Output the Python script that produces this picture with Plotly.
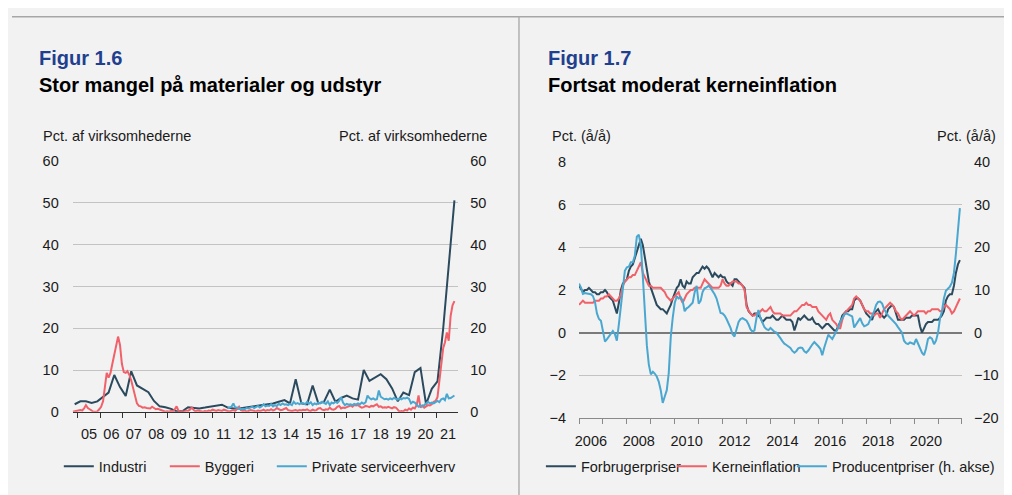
import pandas as pd
import plotly.graph_objects as go

# ---------------- Figur 1.6 data (pct. af virksomhederne) ----------------
industri_start = "2004-11-01"   # quarterly
industri = [1.8,
            2.5, 2.5, 2.1, 2.5,
            3.5, 4.6, 8.8, 5.9,
            3.8, 9.7, 6.3, 5.6,
            4.7, 2.6, 1.3, 1.1,
            0.7, 0.1, 0.1, 1.1,
            1.0, 0.8, 1.0, 1.2,
            1.4, 1.7, 1.0, 0.8,
            0.8, 1.0, 1.2, 1.3,
            1.6, 1.8, 2.0, 2.4,
            2.8, 2.0, 7.8, 2.0,
            1.8, 6.3, 2.0, 2.4,
            5.3, 2.4, 3.3, 3.9,
            3.2, 2.9, 10.0, 7.4,
            8.3, 9.0, 7.8, 5.6,
            2.5, 4.6, 4.0, 9.5,
            10.5, 1.8, 5.5, 7.3,
            20.0, 35.0, 50.6]

byggeri_start = "2004-10-01"    # monthly
byggeri = [0.0, 0.1, 0.2,
           0.3, 0.4, 0.3, 0.8, 1.6, 0.9, 0.6, 0.2, 0.0, 0.0, 0.1, 0.6,
           1.2, 2.5, 5.5, 9.3, 8.2, 9.3, 11.5, 14.0, 16.5, 18.0, 16.0, 11.5,
           9.5, 9.3, 9.7, 8.8, 7.5, 5.5, 3.5, 2.0, 1.4, 1.3, 1.0, 1.1,
           0.9, 0.8, 0.8, 1.2, 0.9, 0.6, 0.7, 0.5, 0.3, 0.1, 0.0, 0.1,
           0.0, 0.2, 0.0, 0.6, 1.3, 0.2, 0.0, 0.1, 0.0, 0.3, 0.2, 0.5,
           1.0, 0.4, 0.1, 0.3, 0.2, 0.1, 0.0, 0.2, 0.1, 0.3, 0.2, 0.5,
           0.3, 0.2, 0.4, 0.3, 0.2, 0.5, 0.3, 0.2, 0.1, 0.3, 0.4, 0.2,
           0.6, 1.2, 0.4, 0.2, 0.3, 0.1, 0.2, 0.4, 0.3, 0.2, 0.1, 0.3,
           0.2, 0.3, 0.5, 0.2, 0.4, 0.3, 0.6, 0.3, 0.5, 0.9, 0.6, 0.4,
           0.5, 0.7, 0.9, 0.4, 0.3, 0.2, 0.3, 0.4, 0.2, 0.4, 0.3, 0.5,
           0.4, 0.6, 0.3, 0.2, 0.5, 0.3, 0.4, 0.8, 0.9, 0.5, 0.4, 0.6,
           0.5, 1.0, 0.6, 0.5, 0.7, 1.2, 1.4, 0.8, 1.0, 0.9, 1.1, 1.3,
           1.5, 1.2, 1.6, 1.5, 1.6, 1.2, 1.0, 1.1, 1.4, 1.3, 1.1, 1.4,
           1.3, 1.6, 1.8, 1.2, 1.3, 1.0, 1.1, 1.0, 1.2, 1.0, 0.8, 1.1,
           1.0, 0.5, 0.0, 0.2, 0.1, 0.5, 0.3, 0.8, 0.5, 1.0, 0.8, 1.6,
           3.9, 1.0, 1.5, 1.0, 1.2, 1.6, 1.5, 1.8, 2.4, 2.6, 3.5, 7.0,
           12.0, 15.3, 16.6, 19.0, 17.0, 23.0, 25.5, 26.5]

service_start = "2011-08-01"    # monthly
service = [0.8, 1.0, 1.2, 2.0, 1.0,
           1.0, 0.8, 0.6, 0.7, 0.6, 0.9, 0.8, 1.0, 1.2, 0.9, 1.1, 1.4,
           1.0, 1.3, 1.8, 1.3, 1.5, 1.4, 1.8, 1.3, 1.6, 1.4, 1.9, 1.6,
           2.0, 1.7, 1.8, 1.6, 1.9, 1.6, 2.4, 1.9, 2.1, 1.8, 2.2, 2.0,
           1.8, 2.4, 1.9, 2.3, 1.6, 2.0, 1.8, 2.2, 2.0, 2.4, 2.1, 1.9,
           2.5, 1.6, 2.2, 2.0, 2.4, 2.1, 2.6, 3.5, 2.2, 1.6, 1.9, 1.7,
           1.8, 1.6, 1.9, 1.7, 2.0, 1.8, 2.2, 1.9, 2.3, 3.9, 3.3, 3.0,
           3.2, 2.9, 3.0, 5.1, 3.6, 3.2, 3.0, 3.1, 2.9, 3.2, 3.0, 3.3,
           3.1, 2.9, 3.2, 3.0, 3.3, 3.2, 3.4, 3.1, 2.0, 2.4, 2.2, 1.8,
           1.2, 1.5, 1.3, 1.6, 1.9, 2.4, 2.0, 2.2, 2.0, 2.4, 2.6, 2.3,
           3.0, 3.2, 2.8, 4.3, 3.2, 3.3, 3.6, 3.9]

left_tick_labels = ["05", "06", "07", "08", "09", "10", "11", "12", "13",
                    "14", "15", "16", "17", "18", "19", "20", "21"]

# ---------------- Figur 1.7 data (pct. å/å), monthly from Jan 2006 ----------------
infl_start = "2006-01-01"
forbrugerpriser = [
    2.2, 2.0, 1.9, 2.0, 2.0, 2.1, 2.0, 1.9, 1.9, 1.8, 1.8, 1.9,
    1.9, 2.0, 1.9, 1.7, 1.6, 1.5, 1.2, 0.9, 1.4, 2.0, 2.3, 2.4,
    2.5, 2.9, 3.1, 3.2, 3.5, 3.9, 4.2, 4.4, 4.1, 3.6, 3.0, 2.4,
    2.1, 1.8, 1.5, 1.3, 1.2, 1.1, 1.1, 1.0, 0.9, 1.1, 1.3, 1.6,
    1.9, 2.1, 2.2, 2.5, 2.2, 2.1, 2.4, 2.3, 2.3, 2.6, 2.7, 2.8,
    2.8, 3.0, 3.1, 3.0, 3.1, 3.0, 2.8, 2.6, 2.8, 2.7, 2.6, 2.7,
    2.6, 2.6, 2.4, 2.3, 2.3, 2.2, 2.5, 2.5, 2.4, 2.3, 2.2, 2.1,
    1.3, 1.0, 0.9, 0.8, 0.9, 0.9, 0.8, 0.7, 0.5, 0.6, 0.7, 0.7,
    0.7, 0.8, 0.7, 0.6, 0.6, 0.7, 0.8, 0.7, 0.6, 0.6, 0.6, 0.5,
    0.1, 0.4, 0.7, 0.6, 0.7, 0.8, 0.7, 0.6, 0.6, 0.7, 0.5, 0.4,
    0.4, 0.3, 0.2, 0.3, 0.4, 0.4, 0.3, 0.2, 0.1, 0.1, 0.3, 0.5,
    0.8, 0.9, 1.0, 1.0, 1.1, 1.1, 1.5, 1.6, 1.6, 1.5, 1.3, 1.1,
    0.9, 0.8, 0.7, 0.6, 0.9, 1.0, 1.1, 0.9, 0.8, 0.7, 0.8, 1.1,
    1.2, 1.3, 1.2, 0.9, 0.6, 0.6, 0.6, 0.6, 0.7, 0.7, 0.7, 0.8,
    0.8, 0.8, 0.8, 0.3, 0.0, 0.2, 0.4, 0.5, 0.5, 0.5, 0.6, 0.6,
    0.6, 0.7, 0.8, 1.0, 1.5, 1.7, 1.8, 1.8, 2.2, 2.8, 3.2, 3.4]

kerneinflation = [
    1.3, 1.4, 1.5, 1.4, 1.4, 1.4, 1.4, 1.4, 1.5, 1.5, 1.5, 1.6,
    1.6, 1.7, 1.7, 1.8, 1.7, 1.6, 1.5, 1.5, 1.6, 1.8, 2.2, 2.4,
    2.5, 2.6, 2.6, 2.7, 2.7, 2.9, 3.1, 3.3, 2.8, 2.6, 2.4, 2.2,
    2.2, 2.1, 2.1, 2.1, 2.1, 2.1, 2.0, 1.9, 1.7, 1.6, 1.5, 1.6,
    1.7, 1.8, 1.9, 1.6, 1.4, 1.6, 1.8, 1.9, 2.0, 2.0, 2.1, 2.1,
    2.1, 2.1, 2.3, 2.5, 2.4, 2.3, 2.2, 2.1, 2.1, 2.1, 2.1, 2.2,
    2.5, 2.3, 2.2, 2.2, 2.3, 2.4, 2.4, 2.4, 2.3, 2.3, 2.2, 2.0,
    1.2, 1.0, 0.9, 0.8, 0.8, 0.9, 0.9, 1.0, 1.1, 1.0, 1.0, 1.1,
    1.2, 1.0, 0.9, 0.9, 0.9, 0.9, 0.8, 0.8, 0.8, 0.8, 0.8, 0.9,
    1.0, 1.0, 1.1, 1.2, 1.3, 1.3, 1.4, 1.3, 1.3, 1.2, 1.2, 1.2,
    1.0, 0.9, 0.8, 0.7, 0.6, 0.8, 0.9, 0.6, 0.5, 0.4, 0.2, 0.2,
    0.6, 0.9, 1.0, 1.1, 1.2, 1.3, 1.6, 1.7, 1.6, 1.5, 1.3, 1.1,
    1.0, 1.0, 0.9, 0.9, 0.8, 0.9, 0.9, 0.7, 0.9, 1.1, 1.2, 1.3,
    1.4, 1.3, 1.2, 1.0, 0.9, 0.7, 0.6, 0.7, 0.8, 0.9, 1.0, 0.9,
    0.8, 0.9, 1.0, 1.0, 1.0, 1.0, 0.9, 1.0, 1.0, 1.1, 1.1, 1.1,
    1.1, 1.0, 1.0, 1.2, 1.3, 1.2, 1.1, 0.9, 1.0, 1.2, 1.4, 1.6]

producentpriser = [
    11.5, 10.5, 9.1, 9.3, 9.2, 9.1, 9.0, 8.6, 7.2, 4.5, 3.2, 2.8,
    0.0, -2.1, -1.6, -0.9, 0.0, 0.4, -0.3, -1.9, 2.0, 6.5, 11.0, 14.5,
    15.3, 15.5, 16.5, 16.5, 18.0, 22.5, 23.0, 20.5, 13.0, 3.5, -3.0, -7.5,
    -9.8, -9.2, -9.6, -10.3, -11.5, -13.5, -16.5, -15.0, -13.5, -9.5, -1.0, 3.5,
    7.0, 8.5, 8.0, 8.3, 7.5, 5.0, 5.7, 6.0, 6.5, 7.0, 9.5, 11.0,
    6.8, 7.5, 9.5, 10.4, 10.6, 11.0, 10.5, 9.8, 9.0, 8.0, 6.0, 4.6,
    4.5, 4.0, 3.2, 2.2, 1.1, -0.4, -0.9, 0.8, 2.5, 3.2, 3.4, 3.1,
    2.8, 1.9, 0.8, 0.2, 0.5, 3.4, 5.3, 3.4, 2.3, 1.3, 0.8, 0.6,
    1.1, 0.6, 0.2, 0.0, -0.8, -1.3, -2.0, -2.6, -2.9, -3.3, -3.6, -4.3,
    -4.7, -4.3, -3.7, -3.5, -3.6, -4.4, -4.7, -4.2, -3.4, -2.8, -2.2, -2.6,
    -3.2, -3.8, -5.3, -3.5, -1.8, -0.5, -1.0, -1.5, -0.6, 0.3, 1.2, 2.6,
    3.4, 4.2, 4.5, 4.3, 4.0, 3.8, 1.2, 2.0, 2.8, 3.4, 2.2, 1.5,
    1.7, 2.0, 3.0, 4.0, 4.9, 6.5, 7.2, 7.3, 6.8, 5.5, 4.6, 4.0,
    3.5, 3.0, 2.5, 2.0, 1.3, 0.6, 0.0, -1.9, -2.5, -2.7, -2.3, -2.5,
    -2.7, -1.5, -2.6, -3.8, -4.7, -5.3, -3.8, -1.5, -1.1, -1.4, -2.7, -1.9,
    0.0, 3.4, 4.9, 8.0, 9.8, 10.3, 10.8, 11.7, 14.0, 18.5, 23.5, 29.2]

right_tick_labels = ["2006", "2008", "2010", "2012", "2014", "2016", "2018", "2020"]

# ---------------- styling / layout ----------------
W, H = 1012, 495
OFF = 8          # the page shows the figure 8 px in from the top-left corner
FONT = "Liberation Sans, Arial, sans-serif"
DARK = "#2b4a5e"
RED = "#f0616a"
BLUE = "#4aa7d0"
BG = "#f2f2f2"
GRID = "#c3c3c3"
TXT = "#1a1a1a"
FS = 14.5


def px(x):
    """screen x -> paper x"""
    return (x - OFF) / W


def py(y):
    """screen y -> paper y"""
    return 1 - (y - OFF) / H


ind_dates = pd.date_range(industri_start, periods=len(industri), freq="3MS")
byg_dates = pd.date_range(byggeri_start, periods=len(byggeri), freq="MS")
srv_dates = pd.date_range(service_start, periods=len(service), freq="MS")
inf_dates = pd.date_range(infl_start, periods=len(forbrugerpriser), freq="MS")

# left x axis: date range, and where its year labels / year ticks sit on screen
L_X0, L_X1 = 69.0, 456.0
left_range = [pd.Timestamp("2004-10-01"), pd.Timestamp("2021-10-01")]


def left_date(p):
    span = left_range[1] - left_range[0]
    return (left_range[0] + span * ((p - L_X0) / (L_X1 - L_X0))).strftime("%Y-%m-%d %H:%M")


left_label_pos = [left_date(85.3 + 22.525 * i) for i in range(len(left_tick_labels))]
left_tick_pos = [left_date(74.0 + 22.525 * i) for i in range(len(left_tick_labels) + 1)]
right_label_pos = [f"{lab}-07-01" for lab in right_tick_labels]

fig = go.Figure()

# Figur 1.6
fig.add_trace(go.Scatter(x=ind_dates, y=industri, name="Industri", mode="lines",
                         line=dict(color=DARK, width=2), xaxis="x", yaxis="y",
                         legend="legend", legendwidth=61))
fig.add_trace(go.Scatter(x=byg_dates, y=byggeri, name="Byggeri", mode="lines",
                         line=dict(color=RED, width=2), xaxis="x", yaxis="y",
                         legend="legend", legendwidth=62))
fig.add_trace(go.Scatter(x=srv_dates, y=service, name="Private serviceerhverv", mode="lines",
                         line=dict(color=BLUE, width=2), xaxis="x", yaxis="y2",
                         legend="legend"))

# Figur 1.7
fig.add_trace(go.Scatter(x=inf_dates, y=forbrugerpriser, name="Forbrugerpriser", mode="lines",
                         line=dict(color=DARK, width=2), xaxis="x2", yaxis="y3",
                         legend="legend2", legendwidth=86))
fig.add_trace(go.Scatter(x=inf_dates, y=kerneinflation, name="Kerneinflation", mode="lines",
                         line=dict(color=RED, width=2), xaxis="x2", yaxis="y3",
                         legend="legend2", legendwidth=75))
fig.add_trace(go.Scatter(x=inf_dates, y=producentpriser, name="Producentpriser (h. akse)",
                         mode="lines", line=dict(color=BLUE, width=2), xaxis="x2", yaxis="y4",
                         legend="legend2"))

tickfont = dict(family=FONT, size=FS, color=TXT)

fig.update_layout(
    width=W, height=H, autosize=False,
    margin=dict(l=0, r=0, t=0, b=0),
    paper_bgcolor=BG, plot_bgcolor=BG,
    font=dict(family=FONT, size=FS, color=TXT),
    xaxis=dict(domain=[px(L_X0), px(L_X1)], anchor="y",
               range=[d.strftime("%Y-%m-%d") for d in left_range], type="date",
               showgrid=False, zeroline=False,
               showline=True, linecolor="#303030", linewidth=1,
               tickmode="array", tickvals=left_label_pos, ticktext=left_tick_labels,
               ticks="outside", ticklen=0, tickfont=tickfont, ticklabelstandoff=9,
               minor=dict(ticks="outside", ticklen=5, tickcolor="#303030",
                          tickmode="array", tickvals=left_tick_pos, showgrid=False)),
    yaxis=dict(domain=[py(417), py(158)], anchor="x", range=[0, 60], dtick=10,
               showgrid=True, gridcolor=GRID, gridwidth=1, zeroline=False,
               showline=False, ticks="", tickfont=tickfont, ticklabelstandoff=13),
    yaxis2=dict(overlaying="y", anchor="x", side="right", range=[0, 60], dtick=10,
                showgrid=False, zeroline=False, showline=False, ticks="",
                tickfont=tickfont, ticklabelstandoff=11),
    xaxis2=dict(domain=[px(577.3), px(961.7)], anchor="y3",
                range=["2006-01-01", "2022-01-01"], type="date",
                showgrid=False, zeroline=False,
                showline=True, linecolor="#8a8a8a", linewidth=1,
                tickmode="array", tickvals=right_label_pos, ticktext=right_tick_labels,
                ticks="outside", ticklen=0, tickfont=tickfont, ticklabelstandoff=10,
                minor=dict(ticks="outside", ticklen=5, tickcolor="#8a8a8a",
                           dtick="M12", tick0="2006-01-01", showgrid=False)),
    yaxis3=dict(domain=[py(423.3), py(159)], anchor="x2", range=[-4, 8], dtick=2,
                showgrid=True, gridcolor=GRID, gridwidth=1,
                zeroline=True, zerolinecolor="#7a7a7a", zerolinewidth=2,
                showline=False, ticks="", tickfont=tickfont, ticklabelstandoff=12),
    yaxis4=dict(overlaying="y3", anchor="x2", side="right", range=[-20, 40], dtick=10,
                showgrid=False, zeroline=False, showline=False, ticks="",
                tickfont=tickfont, ticklabelstandoff=11),
    legend=dict(orientation="h", x=px(55), xanchor="left", y=py(473.4), yanchor="middle",
                bgcolor="rgba(0,0,0,0)", borderwidth=0, itemwidth=30,
                font=dict(family=FONT, size=FS, color=TXT)),
    legend2=dict(orientation="h", x=px(539), xanchor="left", y=py(473.4), yanchor="middle",
                 bgcolor="rgba(0,0,0,0)", borderwidth=0, itemwidth=30,
                 font=dict(family=FONT, size=FS, color=TXT)),
    showlegend=True,
)

# panel decorations: top rule and divider between the two panels
fig.update_layout(shapes=[
    dict(type="line", xref="paper", yref="paper", x0=0, x1=1, y0=py(8.7), y1=py(8.7),
         line=dict(color="#a6a6a6", width=1.5)),
    dict(type="line", xref="paper", yref="paper", x0=px(517), x1=px(517), y0=0, y1=py(8.7),
         line=dict(color="#b0b0b0", width=1.5)),
])

ann = []


def text(x, y, s, size=FS, color=TXT, bold=False, anchor="left"):
    ann.append(dict(xref="paper", yref="paper", x=px(x), y=py(y),
                    text=(f"<b>{s}</b>" if bold else s),
                    showarrow=False, xanchor=anchor, yanchor="middle",
                    font=dict(family=FONT, size=size, color=color)))


BLUE_T = "#1f3f8f"
text(33.5, 51.7, "Figur 1.6", size=20, color=BLUE_T, bold=True)
text(33.5, 79.3, "Stor mangel på materialer og udstyr", size=20, color="#000000", bold=True)
text(37.5, 132.5, "Pct. af virksomhederne")
text(486.8, 132.5, "Pct. af virksomhederne", anchor="right")
text(543.8, 51.7, "Figur 1.7", size=20, color=BLUE_T, bold=True)
text(543.8, 79.3, "Fortsat moderat kerneinflation", size=20, color="#000000", bold=True)
text(548.5, 132.5, "Pct. (å/å)")
text(997.5, 132.5, "Pct. (å/å)", anchor="right")
fig.update_layout(annotations=ann)

fig.write_html("out.html")
